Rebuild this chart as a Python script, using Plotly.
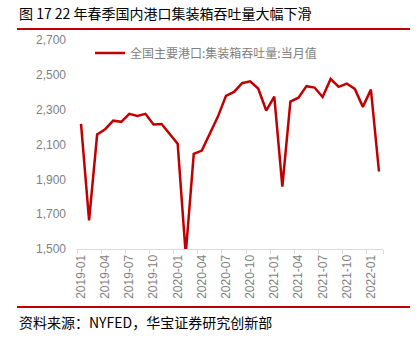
import plotly.graph_objects as go

months = ["2019-01","2019-02","2019-03","2019-04","2019-05","2019-06","2019-07","2019-08","2019-09","2019-10","2019-11","2019-12",
          "2020-01","2020-02","2020-03","2020-04","2020-05","2020-06","2020-07","2020-08","2020-09","2020-10","2020-11","2020-12",
          "2021-01","2021-02","2021-03","2021-04","2021-05","2021-06","2021-07","2021-08","2021-09","2021-10","2021-11","2021-12",
          "2022-01","2022-02"]
values = [2218, 1664, 2157, 2188, 2237, 2230, 2276, 2264, 2276, 2215, 2218, 2161,
          2105, 1470, 2046, 2065, 2161, 2260, 2379, 2402, 2452, 2463, 2421, 2295,
          2375, 1858, 2346, 2369, 2435, 2427, 2373, 2476, 2431, 2450, 2419, 2316,
          2415, 1945]
tick_labels = months[::3]
y_ticks = [1500, 1700, 1900, 2100, 2300, 2500, 2700]

title = "图 17 22 年春季国内港口集装箱吞吐量大幅下滑"
source = "资料来源：NYFED，华宝证券研究创新部"
series_name = "全国主要港口:集装箱吞吐量:当月值"

W, H = 420, 347
L, R, T, B = 77, 383, 40, 249
pw, ph = R - L, B - T

def px(x):
    return (x - L) / pw

def py(y):
    return (B - y) / ph

idx = list(range(len(months)))

fig = go.Figure()
fig.add_trace(go.Scatter(x=idx, y=values, mode="lines", name=series_name,
                         line=dict(color="#c00000", width=2.5)))

fig.update_layout(
    width=W, height=H,
    margin=dict(l=L, r=W - R, t=T, b=H - B),
    paper_bgcolor="white", plot_bgcolor="white",
    font=dict(family="Noto Sans CJK SC, Liberation Sans, sans-serif", color="#595959"),
    showlegend=True,
    legend=dict(x=px(90), y=py(53), xanchor="left", yanchor="middle",
                bgcolor="rgba(0,0,0,0)", font=dict(size=12, color="#7f7f7f",
                family="Noto Sans CJK SC"), itemwidth=30),
    xaxis=dict(range=[-0.5, len(months) - 0.5], tickmode="array",
               tickvals=idx[::3], ticktext=tick_labels, tickangle=-90,
               ticks="", showgrid=False, zeroline=False,
               showline=True, linecolor="#d9d9d9", linewidth=1,
               tickfont=dict(size=12, color="#7f7f7f", family="Liberation Sans, Arial"),
               minor=dict(tickvals=[i - 0.5 for i in idx[::3]] + [len(months) - 0.5],
                          ticks="outside", ticklen=4, tickcolor="#d9d9d9", showgrid=False)),
    yaxis=dict(range=[1500, 2700], tickmode="array", tickvals=y_ticks,
               tickformat=",", showgrid=False, zeroline=False, showline=False,
               ticks="", ticklabelstandoff=10,
               tickfont=dict(size=12, color="#7f7f7f", family="Liberation Sans, Arial")),
)

fig.add_shape(type="line", xref="paper", yref="paper", x0=px(17), x1=px(410),
              y0=py(29), y1=py(29), line=dict(color="#c00000", width=2))
fig.add_shape(type="line", xref="paper", yref="paper", x0=px(17), x1=px(410),
              y0=py(307), y1=py(307), line=dict(color="#c00000", width=2))

fig.add_annotation(text=title, xref="paper", yref="paper", x=px(17), y=py(13),
                   xanchor="left", yanchor="middle", showarrow=False,
                   font=dict(size=14, color="#000000", family="Noto Sans CJK SC"))
fig.add_annotation(text=source, xref="paper", yref="paper", x=px(17), y=py(322),
                   xanchor="left", yanchor="middle", showarrow=False,
                   font=dict(size=14, color="#000000", family="Noto Sans CJK SC"))

fig.write_html("out.html")
